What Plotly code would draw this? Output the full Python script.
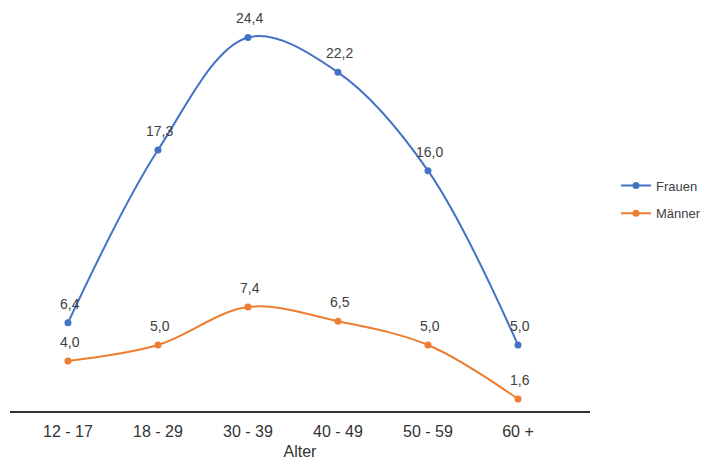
import plotly.graph_objects as go

categories = ["12 - 17", "18 - 29", "30 - 39", "40 - 49", "50 - 59", "60 +"]
frauen = [6.4, 17.3, 24.4, 22.2, 16.0, 5.0]
maenner = [4.0, 5.0, 7.4, 6.5, 5.0, 1.6]

def fmt(v):
    return f"{v:.1f}".replace(".", ",")

x_idx = list(range(len(categories)))
label_font = dict(family="Liberation Sans, Arial, sans-serif", size=14, color="#404040")

fig = go.Figure()
for name, vals, color in [("Frauen", frauen, "#4472C4"), ("Männer", maenner, "#ED7D31")]:
    fig.add_trace(go.Scatter(
        x=x_idx, y=vals, name=name, mode="lines+markers", legendgroup=name,
        line=dict(color=color, width=2, shape="spline", smoothing=1.0),
        marker=dict(color=color, size=7),
        cliponaxis=False,
    ))
    for xi, v in zip(x_idx, vals):
        fig.add_annotation(x=xi, y=v, text=fmt(v), showarrow=False,
                           yshift=19, xshift=2, font=label_font)

fig.update_layout(
    width=704, height=464,
    margin=dict(l=10, r=114, t=20, b=53, autoexpand=False),
    paper_bgcolor="white", plot_bgcolor="white",
    showlegend=True,
    legend=dict(xref="container", yref="container", x=0.875, y=0.57,
                xanchor="left", yanchor="middle",
                font=dict(family="Liberation Sans, Arial, sans-serif", size=13, color="#404040"),
                itemwidth=30, tracegroupgap=8),
    xaxis=dict(
        tickmode="array", tickvals=x_idx, ticktext=categories,
        range=[-0.644, 5.8], showgrid=False, zeroline=False,
        showline=True, linecolor="#333333", linewidth=1.5, ticks="",
        ticklabelstandoff=5,
        tickfont=dict(family="Liberation Sans Narrow, Arial Narrow, sans-serif", size=16, color="#333333"),
        title=dict(text="Alter", standoff=7,
                   font=dict(family="Liberation Sans Narrow, Arial Narrow, sans-serif", size=16, color="#333333")),
    ),
    yaxis=dict(range=[0.84, 25.5], visible=False, showgrid=False, zeroline=False),
)

fig.write_html("out.html")
